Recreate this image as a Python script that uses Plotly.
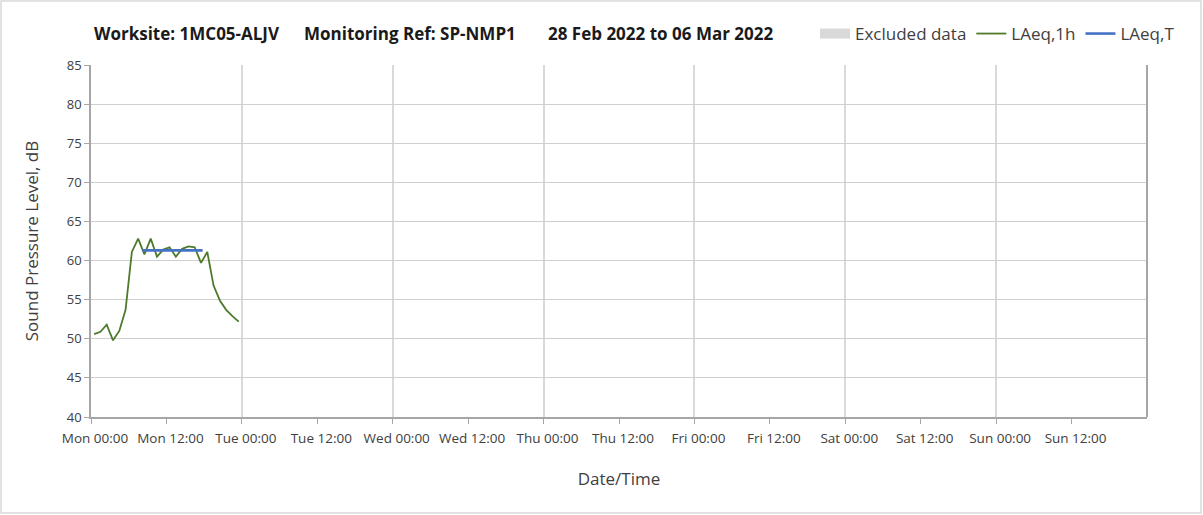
import plotly.graph_objects as go
import pandas as pd

# ---- data ----
laeq_1h_times = pd.date_range("2022-02-28 00:30", periods=24, freq="h")
laeq_1h_values = [50.6, 50.9, 51.8, 49.8, 51.0, 53.7, 61.1, 62.8, 60.8, 62.8, 60.5, 61.4,
                  61.7, 60.5, 61.5, 61.8, 61.7, 59.7, 61.1, 56.8, 54.9, 53.7, 52.9, 52.2]
laeq_T_times = ["2022-02-28 08:10", "2022-02-28 17:45"]
laeq_T_values = [61.3, 61.3]

tick_vals = pd.date_range("2022-02-28 00:00", periods=14, freq="12h")
tick_labels = ["Mon 00:00", "Mon 12:00", "Tue 00:00", "Tue 12:00", "Wed 00:00", "Wed 12:00",
               "Thu 00:00", "Thu 12:00", "Fri 00:00", "Fri 12:00", "Sat 00:00", "Sat 12:00",
               "Sun 00:00", "Sun 12:00"]
x_range = ["2022-02-28 00:00", "2022-03-07 00:00"]
y_ticks = [40, 45, 50, 55, 60, 65, 70, 75, 80, 85]

title_parts = ["Worksite: 1MC05-ALJV", "Monitoring Ref: SP-NMP1", "28 Feb 2022 to 06 Mar 2022"]

FONT = "Open Sans"
TXT = "#404040"

# plot area in pixels
W, H = 1203, 515
L, R, T, B = 91, 1147, 65, 417
pw, ph = R - L, B - T

def px_x(p):
    return (p - L) / pw

def px_y(p):
    return (B - p) / ph

fig = go.Figure()

fig.add_trace(go.Scatter(x=[None], y=[None], mode="lines", name="Excluded data",
                         line=dict(color="#d9d9d9", width=10)))
fig.add_trace(go.Scatter(x=laeq_1h_times, y=laeq_1h_values, mode="lines", name="LAeq,1h",
                         line=dict(color="#4e7a2c", width=1.8)))
fig.add_trace(go.Scatter(x=laeq_T_times, y=laeq_T_values, mode="lines", name="LAeq,T",
                         line=dict(color="#4472c4", width=2.6)))

fig.update_layout(
    width=W, height=H,
    margin=dict(l=L, r=W - R, t=T, b=H - B, pad=0, autoexpand=False),
    paper_bgcolor="white", plot_bgcolor="white",
    font=dict(family=FONT, color=TXT, size=12),
    showlegend=True,
    legend=dict(orientation="h", x=px_x(1180), xanchor="right", y=px_y(34), yanchor="middle",
                font=dict(size=17, color=TXT), bgcolor="rgba(0,0,0,0)",
                itemwidth=30, tracegroupgap=0, traceorder="normal"),
    xaxis=dict(
        type="date", range=x_range, automargin=False,
        tickmode="array", tickvals=tick_vals, ticktext=tick_labels,
        ticks="outside", ticklen=5, tickcolor="#a6a6a6", tickwidth=1,
        ticklabelshift=4, ticklabelstandoff=3,
        showgrid=False,
        minor=dict(tickmode="linear", tick0="2022-02-28", dtick=86400000,
                   showgrid=True, gridcolor="#d9d9d9", gridwidth=1.5, ticks=""),
        showline=True, linecolor="#a6a6a6", linewidth=2, mirror=False,
        tickfont=dict(size=13.5, color=TXT),
        title=dict(text="Date/Time", font=dict(size=17, color=TXT), standoff=27),
        zeroline=False,
    ),
    yaxis=dict(
        range=[40, 85], tickmode="array", tickvals=y_ticks, automargin=False,
        ticks="outside", ticklen=5, tickcolor="#a6a6a6", tickwidth=1,
        showgrid=True, gridcolor="#cfcfcf", gridwidth=1.3,
        showline=True, linecolor="#a6a6a6", linewidth=1.5,
        tickfont=dict(size=13, color=TXT),
        title=dict(text="Sound Pressure Level, dB", font=dict(size=17, color=TXT), standoff=24),
        zeroline=False,
    ),
)

# right plot border
fig.add_shape(type="line", xref="paper", yref="paper", x0=1, x1=1, y0=0, y1=1,
              line=dict(color="#a6a6a6", width=2))
# outer chart border
fig.add_shape(type="rect", xref="paper", yref="paper",
              x0=px_x(1), x1=px_x(W - 2), y0=px_y(1), y1=px_y(H - 2),
              line=dict(color="#d9d9d9", width=1.5))

# title parts
for txt, xp in zip(title_parts, [92, 302, 546]):
    fig.add_annotation(text="<b>" + txt + "</b>", xref="paper", yref="paper",
                       x=px_x(xp), y=px_y(33), xanchor="left", yanchor="middle",
                       showarrow=False, font=dict(size=17, color="#1a1a1a", family=FONT))

fig.write_html("out.html", config={"displayModeBar": False},
               post_script="document.body.style.margin='0px';document.body.style.overflow='hidden';")
